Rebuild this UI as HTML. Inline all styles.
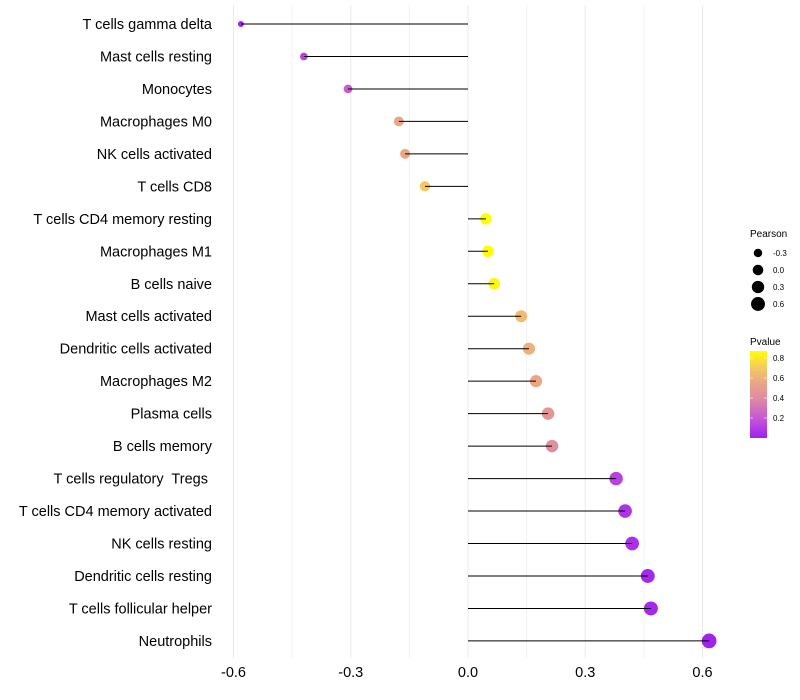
<!DOCTYPE html>
<html><head><meta charset="utf-8"><style>
body{margin:0;background:#fff;font-family:"Liberation Sans",sans-serif;}
svg{display:block}
text{white-space:pre}
</style></head><body>
<svg id="chart" width="800" height="700" xmlns="http://www.w3.org/2000/svg"></svg>
<script>
const categories=["T cells gamma delta","Mast cells resting","Monocytes","Macrophages M0","NK cells activated","T cells CD8","T cells CD4 memory resting","Macrophages M1","B cells naive","Mast cells activated","Dendritic cells activated","Macrophages M2","Plasma cells","B cells memory","T cells regulatory  Tregs ","T cells CD4 memory activated","NK cells resting","Dendritic cells resting","T cells follicular helper","Neutrophils"];
const pearson=[-0.581,-0.42,-0.307,-0.177,-0.161,-0.11,0.046,0.051,0.067,0.136,0.156,0.174,0.205,0.215,0.379,0.402,0.42,0.46,0.468,0.617];
const pvalue=[0.01,0.12,0.22,0.55,0.56,0.7,0.87,0.86,0.84,0.65,0.6,0.56,0.46,0.42,0.12,0.07,0.06,0.03,0.03,0.004];
const xTicks=[-0.6,-0.3,0.0,0.3,0.6];
const xTickLabels=["-0.6","-0.3","0.0","0.3","0.6"];
const sizeLegend=[-0.3,0.0,0.3,0.6];
const pTicks=[0.2,0.4,0.6,0.8];
const NS="http://www.w3.org/2000/svg";
const svg=document.getElementById('chart');
const x=v=>468+v*390.8;
const y=i=>24+i*32.47;
const r=v=>Math.sqrt(Math.max(3,31+38*v));
const pMax=0.87;
const stops=[[0,[160,32,240]],[0.2,[198,88,212]],[0.4,[224,140,160]],[0.55,[234,165,135]],[0.7,[245,200,100]],[0.87,[255,255,0]]];
function col(p){p=Math.max(0,Math.min(pMax,p));
for(let k=1;k<stops.length;k++){if(p<=stops[k][0]){const a=stops[k-1],b=stops[k];const t=(p-a[0])/(b[0]-a[0]);
return `rgb(${a[1].map((c,j)=>Math.round(c+(b[1][j]-c)*t)).join(',')})`;}}
return 'rgb(255,255,0)';}
function el(tag,attrs,parent){const e=document.createElementNS(NS,tag);for(const k in attrs)e.setAttribute(k,attrs[k]);(parent||svg).appendChild(e);return e;}
[-0.45,-0.15,0.15,0.45].forEach(v=>{const g=el('line',{x1:x(v),x2:x(v),y1:5,y2:658,stroke:'#f3f3f3','stroke-width':1});

});
xTicks.forEach((v,i)=>{const g=el('line',{x1:x(v),x2:x(v),y1:5,y2:658,stroke:'#ebebeb','stroke-width':1});


const t=el('text',{x:x(v),y:677,'text-anchor':'middle','font-size':14.5,fill:'#000'});t.textContent=xTickLabels[i];

});
categories.forEach((c,i)=>{
const t=el('text',{x:212,y:y(i)+5,'text-anchor':'end','font-size':14.5,fill:'#000'});t.textContent=c;


const p=el('circle',{cx:x(pearson[i]),cy:y(i),r:r(pearson[i]),fill:col(pvalue[i])});


const l=el('line',{x1:x(0),x2:x(pearson[i]),y1:y(i),y2:y(i),stroke:'#000','stroke-width':1});


});
const lt=el('text',{x:750,y:237,'font-size':10,fill:'#000'});lt.textContent='Pearson';


sizeLegend.forEach((v,i)=>{const cy=253+i*17;
const c=el('circle',{cx:758,cy:cy,r:r(v)*0.95,fill:'#000'});


const t=el('text',{x:773,y:cy+3,'font-size':8,fill:'#000'});t.textContent=v.toFixed(1);

});
const ct=el('text',{x:750,y:345,'font-size':10,fill:'#000'});ct.textContent='Pvalue';


const defs=el('defs',{});const gr=el('linearGradient',{id:'pg',x1:0,y1:1,x2:0,y2:0},defs);
stops.forEach(s=>el('stop',{offset:s[0]/pMax,'stop-color':col(s[0])},gr));
const bar=el('rect',{x:750,y:351,width:17,height:87,fill:'url(#pg)'});


pTicks.forEach(v=>{const cy=438-v*100;
el('line',{x1:750,x2:753,y1:cy,y2:cy,stroke:'#fff','stroke-opacity':0.6});
el('line',{x1:764,x2:767,y1:cy,y2:cy,stroke:'#fff','stroke-opacity':0.6});
const t=el('text',{x:773,y:cy+3,'font-size':8,fill:'#000'});t.textContent=v.toFixed(1);

});
</script>
</body></html>
